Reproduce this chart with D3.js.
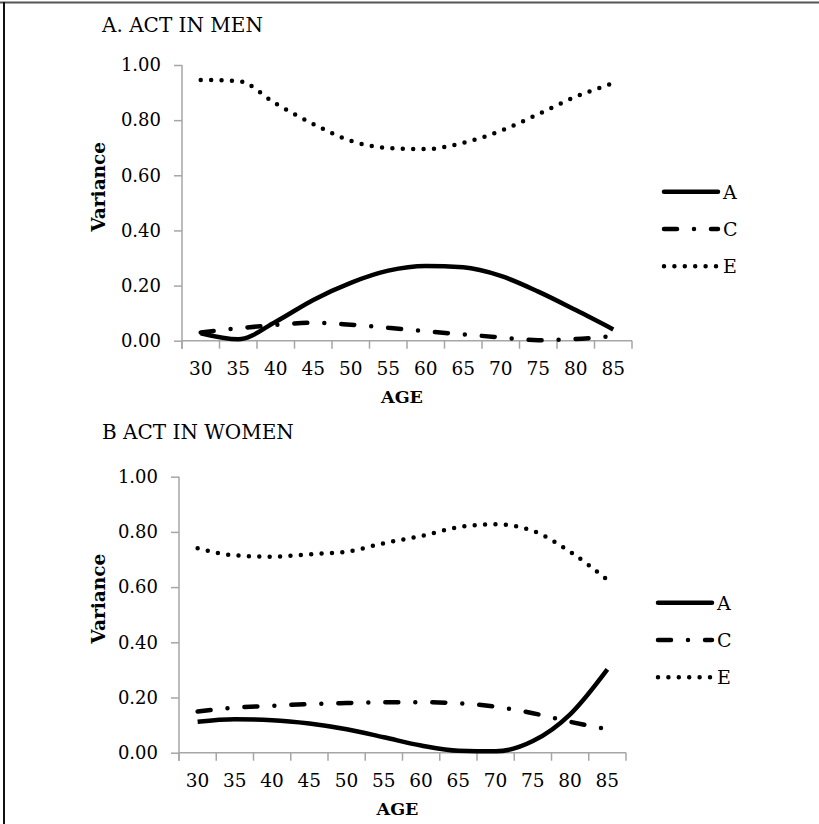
<!DOCTYPE html>
<html lang="en">
<head>
  <meta charset="utf-8">
  <title>ACT variance by age</title>
  <script src="https://d3js.org/d3.v7.min.js"></script>
</head>
<style>
body { margin: 0; background: #fff; }
text { font-family: "DejaVu Serif", serif; fill: #000; }
.axis path, .axis line { stroke: #a6a6a6; stroke-width: 1.5px; }
.axis text { font-size: 18px; }
</style>
<body>
<script>
var ages = ["30","35","40","45","50","55","60","65","70","75","80","85"];
var yTicks = [0, 0.2, 0.4, 0.6, 0.8, 1.0];
var seriesNames = ["A", "C", "E"];

// panel A: men
var menA = [0.027, 0.005, 0.069, 0.148, 0.210, 0.254, 0.271, 0.266, 0.235, 0.178, 0.111, 0.041];
var menC = [0.030, 0.045, 0.057, 0.065, 0.058, 0.047, 0.034, 0.023, 0.012, 0.002, 0.006, 0.017];
var menE = [0.946, 0.942, 0.860, 0.786, 0.725, 0.699, 0.695, 0.718, 0.761, 0.822, 0.885, 0.934];

// panel B: women
var womenA = [0.112, 0.121, 0.118, 0.106, 0.085, 0.056, 0.026, 0.007, 0.005, 0.042, 0.139, 0.302];
var womenC = [0.149, 0.163, 0.170, 0.176, 0.180, 0.183, 0.183, 0.179, 0.167, 0.143, 0.112, 0.085];
var womenE = [0.741, 0.715, 0.710, 0.719, 0.728, 0.759, 0.785, 0.817, 0.828, 0.804, 0.728, 0.626];

var w = 819, h = 824;

var svg = d3.select("body").append("svg")
  .attr("width", w)
  .attr("height", h);

// frame (cropped figure: top and left edges only)
svg.append("line").attr("x1", 0).attr("x2", w).attr("y1", 2.5).attr("y2", 2.5)
  .attr("stroke", "#555").attr("stroke-width", 2);
svg.append("line").attr("x1", 4).attr("x2", 4).attr("y1", 2).attr("y2", h)
  .attr("stroke", "#111").attr("stroke-width", 2);

var styles = {
  A: { dash: null, cap: "butt", width: 4.5 },
  C: { dash: "13,17,0,17", cap: "round", width: 4.5 },
  E: { dash: "0,10.4", cap: "round", width: 4.5 }
};

function panel(opt) {
  var x = d3.scaleBand().domain(ages).range([opt.x0, opt.x1]);
  var y = d3.scaleLinear().domain([0, 1]).range([opt.y0, opt.y1]);

  svg.append("text")
    .attr("x", 102).attr("y", opt.titleY)
    .style("font-size", "20px")
    .text(opt.title);

  var yAxis = svg.append("g").attr("class", "axis")
    .attr("transform", "translate(" + opt.x0 + ",0)")
    .call(d3.axisLeft(y).tickValues(yTicks).tickSize(8).tickSizeOuter(0).tickPadding(13)
      .tickFormat(d3.format(".2f")));
  yAxis.select(".domain").attr("d", "M0," + (opt.y0 + 8) + "V" + opt.y1);

  var xAxis = svg.append("g").attr("class", "axis")
    .attr("transform", "translate(0," + opt.y0 + ")");
  xAxis.append("line").attr("x1", opt.x0).attr("x2", opt.x1);
  var bounds = d3.range(ages.length + 1).map(function(i) { return opt.x0 + i * x.bandwidth(); });
  xAxis.selectAll(".tk").data(bounds).enter().append("line")
    .attr("x1", function(d) { return d; }).attr("x2", function(d) { return d; })
    .attr("y1", 0).attr("y2", 8);
  xAxis.selectAll(".lb").data(ages).enter().append("text")
    .attr("x", function(d) { return x(d) + x.bandwidth() / 2; })
    .attr("y", 34)
    .attr("text-anchor", "middle")
    .style("font-size", "18.5px")
    .text(function(d) { return d; });

  svg.append("text")
    .attr("x", (opt.x0 + opt.x1) / 2 - 5).attr("y", opt.y0 + 62)
    .attr("text-anchor", "middle")
    .style("font-size", "17.5px").style("font-weight", "bold")
    .text("AGE");

  svg.append("text")
    .attr("transform", "translate(105," + ((opt.y0 + opt.y1) / 2 - 16) + ") rotate(-90)")
    .attr("text-anchor", "middle")
    .style("font-size", "18.5px").style("font-weight", "bold")
    .text("Variance");

  var line = d3.line()
    .x(function(d, i) { return x(ages[i]) + x.bandwidth() / 2; })
    .y(function(d) { return y(d); })
    .curve(d3.curveMonotoneX);

  seriesNames.forEach(function(name, k) {
    var st = styles[name];
    svg.append("path")
      .datum(opt.data[k])
      .attr("d", line)
      .attr("fill", "none")
      .attr("stroke", "#000")
      .attr("stroke-width", st.width)
      .attr("stroke-linecap", st.cap)
      .attr("stroke-linejoin", "round")
      .attr("stroke-dasharray", st.dash);

    var ly = opt.legY + k * 37.3;
    svg.append("line")
      .attr("x1", opt.legX).attr("x2", opt.legX + 54)
      .attr("y1", ly).attr("y2", ly)
      .attr("stroke", "#000")
      .attr("stroke-width", st.width)
      .attr("stroke-linecap", "round")
      .attr("stroke-dasharray", st.dash);
    svg.append("text")
      .attr("x", opt.legX + 59).attr("y", ly + 7)
      .style("font-size", "19px")
      .text(name);
  });
}

panel({
  title: "A. ACT IN MEN", titleY: 31.5,
  x0: 182, x1: 632, y0: 340.7, y1: 65,
  legX: 664, legY: 191.7,
  data: [menA, menC, menE]
});

panel({
  title: "B ACT IN WOMEN", titleY: 439.3,
  x0: 179, x1: 626, y0: 752.7, y1: 476.7,
  legX: 658, legY: 602.7,
  data: [womenA, womenC, womenE]
});
</script>
</body>
</html>
